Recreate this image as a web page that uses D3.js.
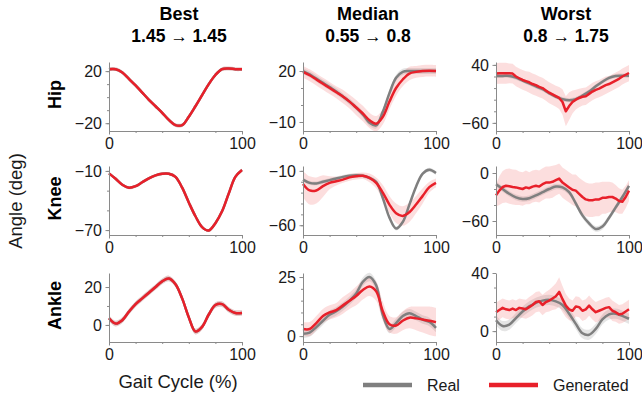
<!DOCTYPE html>
<html>
<head>
<meta charset="utf-8">
<script src="https://cdn.jsdelivr.net/npm/d3@7"></script>
<style>
body { margin: 0; background: #fff; }
svg { font-family: "Liberation Sans", Arial, sans-serif; }
</style>
</head>
<body>
<div id="chart"></div>
<script>
// gait cycle grids (%)
var xGrid = [0,5,10,15,20,25,30,35,40,45,50,55,60,65,70,75,80,85,90,95,100];
var xFine = [0,2.5,5,7.5,10,12.5,15,17.5,20,22.5,25,27.5,30,32.5,35,37.5,40,42.5,45,47.5,50,
  52.5,55,57.5,60,62.5,65,67.5,70,72.5,75,77.5,80,82.5,85,87.5,90,92.5,95,97.5,100];

var colTitles = ["Best", "Median", "Worst"];
var colScores = ["1.45 \u2192 1.45", "0.55 \u2192 0.8", "0.8 \u2192 1.75"];
var rowNames = ["Hip", "Knee", "Ankle"];

// ---- Best ----
var hipBestReal = [21.5,21.5,19,14,9,3.5,-2,-7,-12,-17.5,-21.5,-21.5,-15,-7,1.5,10,17,21.5,22,21.5,21.5];
var hipBestGen  = [21.5,21.5,19,14,9,3.5,-2,-7,-12,-17.5,-21.5,-21.5,-15,-7,1.5,10,17,21.5,22,21.5,21.5];
var kneeBestReal = [-12.5,-18,-24,-27,-25.5,-21.5,-17.5,-14.5,-12.8,-12.8,-16,-27,-42,-56,-67,-70.5,-63,-51,-33,-16,-9];
var kneeBestGen  = [-12.5,-18,-24,-27,-25.5,-21.5,-17.5,-14.5,-12.8,-12.8,-16,-27,-42,-56,-67,-70.5,-63,-51,-33,-16,-9];
var ankleBestReal = [3.5,0.7,2.5,7,11,14,17,20,23,24.5,21.5,14,4,-3.5,-1,5.5,10.5,11,8,6.3,6.3];
var ankleBestGen  = [3.5,0.7,2.5,7,11,14,17,20,23,24.5,21.5,14,4,-3.5,-1,5.5,10.5,11,8,6.3,6.3];

// ---- Median ----
var hipMedReal = [20,18,15.5,13,10.5,8,5,2,-1.5,-5.5,-10.5,-12,-4,7,16,19.5,20,20,20,20,20];
var hipMedGen  = [19.5,17.5,15,12.5,10,7.5,5,2,-1.5,-5,-9,-11,-7,2,10,15,18.5,19.5,20,20.2,20];
var hipMedGenSd = [3.5,3.5,3.5,3.5,3.5,3.5,4,4,4.5,4.5,4.5,4.5,4.5,4.5,4.5,4,4,3.5,3.5,3.5,3.5];
var kneeMedReal = [-18,-21,-21.5,-20,-18.5,-17,-15.5,-14.5,-14,-14.5,-16.5,-20,-35,-53,-63,-57,-41,-24.5,-12.5,-9,-12];
var kneeMedGen  = [-22,-28,-28,-24,-21,-19.5,-18,-16,-15,-14.5,-16.5,-21,-30,-41,-49,-51.5,-48,-41,-33,-25,-21];
var kneeMedGenSd = [12,13,12,10,6,4,3,3,3,3,4,5,7,8,9,9,9,8,7,5,4];
var ankleMedReal = [1,1.5,3.8,6.5,9,10.5,12.5,15,18,23,25,21.5,9,3,5.5,8.5,9.7,8.5,7,6,3.5];
var ankleMedGen  = [3,3,5.5,8.5,10,11,13,15,17,19.5,21,19,10.5,5,4.5,6.5,7.8,7.5,7,6.5,5.9];
var ankleMedGenSd = [3,3,3,3,3,3,3.5,3.5,4,4,4,4,4,3.5,3.5,4,4.5,5,5.5,6,6];

// ---- Worst ----
var hipWorstReal = [21,21,21,18,13,8,3,-2,-9,-15,-19,-21,-19,-13,-6,3,11,17.5,21,21.5,21.5];
var hipWorstGen = [25,25.5,25.5,25.5,25.5,25,20,17,14,12,10,7,5,2,0,-4,-8,-11,-14,-17,-24,
  -40,-31,-24,-20,-17,-15,-14,-10,-6,-3,-1,2,5,7,10,13,16,20,23,26];
var hipWorstGenSd = [18,18,18,18,17,17,17,17,17,17,18,18,18,18,18,18,18,18,18,19,22,
  26,24,20,17,16,15,15,15,15,15,15,15,15,14,14,14,14,14,14,14];
var kneeWorstReal = [-14,-20,-26,-30.5,-32.5,-31.5,-28,-24,-20,-17,-18,-24,-38,-53,-63,-70,-67,-56,-43,-30,-16];
var kneeWorstGen = [-28,-22,-17.5,-16,-16.5,-17.5,-18,-19,-20,-18,-19,-17,-16,-17,-14,-12,-12,-11,-9,-7,-12,
  -15,-18,-21,-22,-26,-30,-33,-34,-34,-33,-33,-31,-31,-30,-30,-32,-35,-36,-30,-22];
var kneeWorstGenSd = [14,18,20,21,22,22,22,21,21,21,20,20,20,20,20,20,20,20,19,19,19,
  19,19,19,20,20,21,21,21,21,21,21,20,20,19,18,17,16,15,14,13];
var ankleWorstReal = [7.5,3.5,4.5,9,13.5,17,19.5,21,21.5,20.5,18,12,5,-1.5,-2.5,1.5,8,11.5,12,10.5,8.5];
var ankleWorstGen = [13,14.5,16,15,14.5,15.5,14.5,16,15.5,15,16.5,18,20,20.5,18,20,21,22.5,24,27,22,
  17.5,15,14,17,16.5,14,15,17.5,15,13,14,15,16,16.5,14,13,11.5,12,13.5,15];
var ankleWorstGenSd = [6.5,6.5,6.5,6.5,6.5,6.5,6.5,6.5,6.5,6.5,7,7,7,7,7,7,7.5,8,9,10,9,
  8,7.5,7,7,7,7,7,7,7,7,7,7,7,7,7,6.5,6.5,6.5,6.5,6.5];

// y ranges and tick values (first and last are labelled)
var yDomains = [
  [[-26, 27], [-15.3, 25.3], [-74, 45]],
  [[-75, -5], [-69, -5.5], [-77.5, 8.75]],
  [[-9, 27.4], [-2.5, 26.7], [-7.5, 40]]
];
var yTicks = [
  [[-20,-10,0,10,20], [-10,0,10,20], [-60,-40,-20,0,20,40]],
  [[-70,-50,-30,-10], [-60,-50,-40,-30,-20,-10], [-60,-40,-20,0]],
  [[0,10,20], [0,5,10,15,20,25], [0,10,20,30,40]]
];
var xTicks = [0, 20, 40, 60, 80, 100];

var realSd = [1.5, 1.8, 3.5];
var bestGenSd = 1.5;

var panels = [
  [
    {real: hipBestReal, gen: hipBestGen, genSd: bestGenSd},
    {real: hipMedReal, gen: hipMedGen, genSd: hipMedGenSd},
    {real: hipWorstReal, gen: hipWorstGen, genSd: hipWorstGenSd}
  ],
  [
    {real: kneeBestReal, gen: kneeBestGen, genSd: bestGenSd},
    {real: kneeMedReal, gen: kneeMedGen, genSd: kneeMedGenSd},
    {real: kneeWorstReal, gen: kneeWorstGen, genSd: kneeWorstGenSd}
  ],
  [
    {real: ankleBestReal, gen: ankleBestGen, genSd: bestGenSd},
    {real: ankleMedReal, gen: ankleMedGen, genSd: ankleMedGenSd},
    {real: ankleWorstReal, gen: ankleWorstGen, genSd: ankleWorstGenSd}
  ]
];

var svgWidth = 642;
var svgHeight = 401;
var colX = [109, 303, 496];
var rowY = [62, 166, 273];
var plotW = 133;
var plotH = 69;

var red = "#e8202a";
var gray = "#7f7f7f";
var axisColor = "#8a8a8a";

var svg = d3.select("#chart")
  .append("svg")
  .attr("width", svgWidth)
  .attr("height", svgHeight);

for (var r = 0; r < 3; r++) {
  for (var c = 0; c < 3; c++) {
    drawPanel(r, c, panels[r][c]);
  }
}

// column titles
colTitles.forEach(function(t, i) {
  var cx = [179, 368, 566][i];
  svg.append("text")
    .attr("x", cx).attr("y", 20)
    .attr("text-anchor", "middle")
    .style("font-size", "18px").style("font-weight", "bold")
    .text(t);
  svg.append("text")
    .attr("x", cx).attr("y", 42)
    .attr("text-anchor", "middle")
    .style("font-size", "17.5px").style("font-weight", "bold")
    .text(colScores[i]);
});

// row labels
rowNames.forEach(function(t, i) {
  var cy = rowY[i] + plotH / 2 - 2;
  svg.append("text")
    .attr("transform", `translate(61, ${cy}) rotate(-90)`)
    .attr("text-anchor", "middle")
    .style("font-size", "18px").style("font-weight", "bold")
    .text(t);
});

// axis titles
svg.append("text")
  .attr("transform", "translate(22, 201) rotate(-90)")
  .attr("text-anchor", "middle")
  .style("font-size", "18.5px")
  .attr("fill", "#1a1a1a")
  .text("Angle (deg)");

svg.append("text")
  .attr("x", 178).attr("y", 388)
  .attr("text-anchor", "middle")
  .style("font-size", "18.5px")
  .attr("fill", "#1a1a1a")
  .text("Gait Cycle (%)");

// legend
addLegend(363, 385, gray, "Real");
addLegend(489, 385, red, "Generated");

function addLegend(x0, y0, color, label) {
  svg.append("line")
    .attr("x1", x0).attr("x2", x0 + 49)
    .attr("y1", y0).attr("y2", y0)
    .attr("stroke", color)
    .attr("stroke-width", 4.5);
  svg.append("text")
    .attr("x", x0 + 64).attr("y", y0 + 5.5)
    .style("font-size", "16px")
    .attr("fill", "#1a1a1a")
    .text(label);
}

function drawPanel(r, c, p) {
  var g = svg.append("g")
    .attr("transform", `translate(${colX[c]}, ${rowY[r]})`);

  var xScale = d3.scaleLinear().domain([0, 100]).range([0, plotW]);
  var yScale = d3.scaleLinear().domain(yDomains[r][c]).range([plotH, 0]);

  addBand(g, xScale, yScale, p.real, realSd[c], "rgba(150,150,150,0.25)");
  addBand(g, xScale, yScale, p.gen, p.genSd, "rgba(240,90,90,0.2)");
  addLine(g, xScale, yScale, p.real, gray);
  addLine(g, xScale, yScale, p.gen, red);

  // axes: minor ticks first, then labelled ticks
  var ticks = yTicks[r][c];
  var labelled = [ticks[0], ticks[ticks.length - 1]];

  g.append("g")
    .call(d3.axisLeft(yScale).tickValues(ticks).tickSize(2).tickSizeOuter(0).tickFormat(""));
  var yMajor = g.append("g")
    .call(d3.axisLeft(yScale).tickValues(labelled).tickSize(3.5).tickSizeOuter(0).tickPadding(3.5)
      .tickFormat(d => d < 0 ? "\u2212" + Math.abs(d) : d));
  yMajor.select(".domain").remove();

  g.append("g")
    .attr("transform", `translate(0, ${plotH})`)
    .call(d3.axisBottom(xScale).tickValues(xTicks).tickSize(2).tickSizeOuter(0).tickFormat(""));
  var xMajor = g.append("g")
    .attr("transform", `translate(0, ${plotH})`)
    .call(d3.axisBottom(xScale).tickValues([0, 100]).tickSize(3.5).tickSizeOuter(0).tickPadding(3));
  xMajor.select(".domain").remove();

  g.selectAll(".domain, .tick line")
    .attr("stroke", axisColor);
  g.selectAll(".tick text")
    .attr("fill", "#1a1a1a")
    .style("font-size", "16px")
    .style("font-family", "'Liberation Sans', Arial, sans-serif");
}

function xsFor(series) {
  return series.length === xFine.length ? xFine : xGrid;
}

function curveFor(series) {
  return series.length === xFine.length ? d3.curveLinear : d3.curveCatmullRom.alpha(0.5);
}

function addLine(g, xScale, yScale, series, color) {
  var xs = xsFor(series);
  var line = d3.line()
    .x((d, i) => xScale(xs[i]))
    .y(d => yScale(d))
    .curve(curveFor(series));
  g.append("path")
    .datum(series)
    .attr("d", line)
    .attr("fill", "none")
    .attr("stroke", color)
    .attr("stroke-width", 2.5)
    .attr("stroke-linejoin", "round");
}

function addBand(g, xScale, yScale, series, sd, fill) {
  var xs = xsFor(series);
  var sdAt = i => Array.isArray(sd) ? sd[i] : sd;
  var area = d3.area()
    .x((d, i) => xScale(xs[i]))
    .y0((d, i) => yScale(d - sdAt(i)))
    .y1((d, i) => yScale(d + sdAt(i)))
    .curve(curveFor(series));
  g.append("path")
    .datum(series)
    .attr("d", area)
    .attr("fill", fill)
    .attr("stroke", "none");
}
</script>
</body>
</html>
